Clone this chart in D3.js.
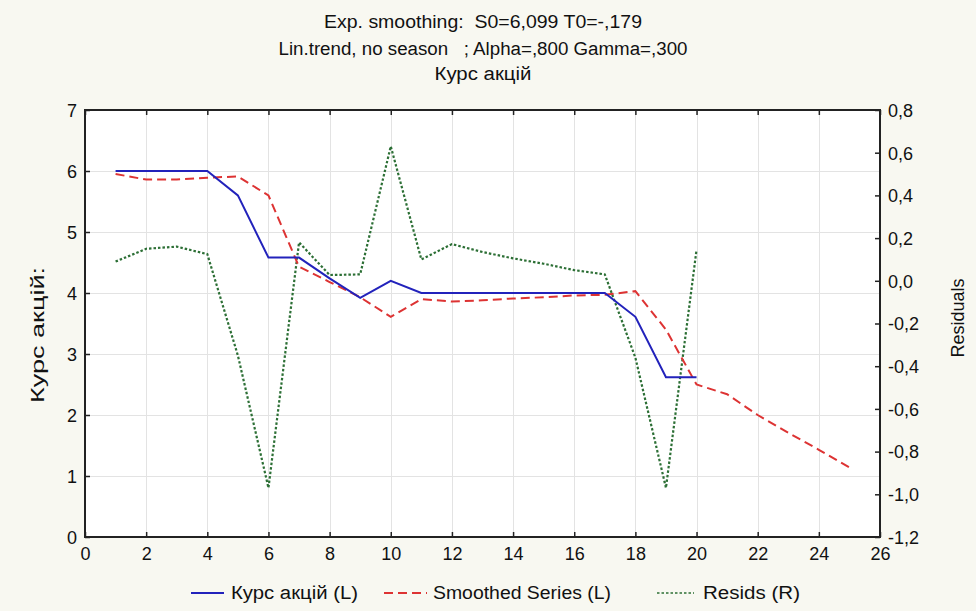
<!DOCTYPE html>
<html>
<head>
<meta charset="utf-8">
<script src="https://cdn.jsdelivr.net/npm/d3@7"></script>
<style>
  html, body { margin: 0; padding: 0; background: #f8f8f1; }
  svg { display: block; }
  text { font-family: "Liberation Sans", Arial, sans-serif; fill: #111; white-space: pre; }
</style>
</head>
<body>
<svg id="chart" width="976" height="611"></svg>
<script>
// ---- data ----
const titleLines = ["Exp. smoothing:  S0=6,099 T0=-,179",
                    "Lin.trend, no season   ; Alpha=,800 Gamma=,300",
                    "Курс акцій"];
const priceX = [1,2,3,4,5,6,7,8,9,10,11,12,13,14,15,16,17,18,19,20];
const price  = [6.0,6.0,6.0,6.0,5.6,4.58,4.58,4.24,3.92,4.2,4.0,4.0,4.0,4.0,4.0,4.0,4.0,3.61,2.62,2.62];
const smoothX = [1,2,3,4,5,6,7,8,9,10,11,12,13,14,15,16,17,18,19,20,21,22,23,24,25];
const smoothed = [5.95,5.86,5.86,5.89,5.91,5.6,4.43,4.18,3.93,3.61,3.9,3.86,3.88,3.91,3.93,3.96,3.97,4.03,3.4,2.5,2.34,2.0,1.71,1.43,1.14];
const residX = [1,2,3,4,5,6,7,8,9,10,11,12,13,14,15,16,17,18,19,20];
const resids = [0.09,0.15,0.16,0.125,-0.35,-0.97,0.18,0.027,0.03,0.63,0.1,0.172,0.135,0.105,0.08,0.05,0.03,-0.36,-0.97,0.145];
const xTicks = [0,2,4,6,8,10,12,14,16,18,20,22,24,26];
const yLeftTicks = [0,1,2,3,4,5,6,7];
const yRightTicks = [-1.2,-1.0,-0.8,-0.6,-0.4,-0.2,0.0,0.2,0.4,0.6,0.8];
const legendItems = ["Курс акцій (L)", "Smoothed Series (L)", "Resids (R)"];

// ---- layout ----
const L = 85, R = 880, T = 110, B = 537;
const svg = d3.select("#chart");
const x = d3.scaleLinear().domain([0,26]).range([L,R]);
const yL = d3.scaleLinear().domain([0,7]).range([B,T]);
const yR = d3.scaleLinear().domain([-1.2,0.8]).range([B,T]);
const fmt = v => d3.format(".1f")(v).replace("−","-").replace(".",",");
const fitW = (sel, w) => sel.attr("textLength", w).attr("lengthAdjust","spacingAndGlyphs");

svg.append("rect").attr("x",L).attr("y",T).attr("width",R-L).attr("height",B-T).attr("fill","#ffffff");

// grid
const grid = svg.append("g").attr("stroke","#e3e3e3").attr("stroke-width",1);
xTicks.filter(d=>d>0&&d<26).forEach(d=>{
  grid.append("line").attr("x1",Math.round(x(d))+0.5).attr("x2",Math.round(x(d))+0.5).attr("y1",T).attr("y2",B);
});
yLeftTicks.filter(d=>d>0&&d<7).forEach(d=>{
  grid.append("line").attr("y1",Math.round(yL(d))+0.5).attr("y2",Math.round(yL(d))+0.5).attr("x1",L).attr("x2",R);
});

// axes (ticks inward)
const fs = 18;
const axB = svg.append("g").attr("transform",`translate(0,${B})`)
  .call(d3.axisTop(x).tickValues(xTicks).tickSize(5).tickFormat(""));
axB.selectAll(".tick").append("text").attr("y",23).attr("text-anchor","middle").attr("font-size",fs).text(d=>d);
const axT = svg.append("g").attr("transform",`translate(0,${T})`)
  .call(d3.axisBottom(x).tickValues(xTicks).tickSize(5).tickFormat(""));
const axL = svg.append("g").attr("transform",`translate(${L},0)`)
  .call(d3.axisRight(yL).tickValues(yLeftTicks).tickSize(5).tickFormat(""));
axL.selectAll(".tick").append("text").attr("x",-8).attr("dy","0.35em").attr("text-anchor","end").attr("font-size",fs).text(d=>d);
const axR = svg.append("g").attr("transform",`translate(${R},0)`)
  .call(d3.axisLeft(yR).tickValues(yRightTicks).tickSize(5).tickFormat(""));
axR.selectAll(".tick").append("text").attr("x",8).attr("dy","0.35em").attr("text-anchor","start").attr("font-size",fs).text(d=>fmt(d));
[axB,axT,axL,axR].forEach(a=>{
  a.select(".domain").remove();
  a.selectAll(".tick line").attr("stroke","#222").attr("stroke-width",1.5);
});
svg.append("rect").attr("x",L).attr("y",T).attr("width",R-L).attr("height",B-T)
  .attr("fill","none").attr("stroke","#222").attr("stroke-width",2);

// series
svg.append("clipPath").attr("id","clp").append("rect").attr("x",L).attr("y",T).attr("width",R-L).attr("height",B-T);
const g = svg.append("g").attr("clip-path","url(#clp)");
const lineL = d3.line().x(d=>x(d[0])).y(d=>yL(d[1]));
const lineR = d3.line().x(d=>x(d[0])).y(d=>yR(d[1]));
g.append("path").datum(residX.map((v,i)=>[v,resids[i]])).attr("d",lineR)
  .attr("fill","none").attr("stroke","#2c6f35").attr("stroke-width",2.2).attr("stroke-dasharray","2.5,2");
g.append("path").datum(smoothX.map((v,i)=>[v,smoothed[i]])).attr("d",lineL)
  .attr("fill","none").attr("stroke","#dd3333").attr("stroke-width",2).attr("stroke-dasharray","9,5");
g.append("path").datum(priceX.map((v,i)=>[v,price[i]])).attr("d",lineL)
  .attr("fill","none").attr("stroke","#2222bb").attr("stroke-width",2);

// titles
const titleY = [28, 55, 80], titleW = [318, 409, 97];
titleLines.forEach((t,i)=>{
  fitW(svg.append("text").attr("x",483).attr("y",titleY[i]).attr("text-anchor","middle")
    .attr("font-size",18).text(t), titleW[i]);
});
fitW(svg.append("text").attr("transform","translate(44,335) rotate(-90)").attr("text-anchor","middle")
  .attr("font-size",18).text("Курс акцій:"), 136);
svg.append("text").attr("transform","translate(964,318) rotate(-90)").attr("text-anchor","middle")
  .attr("font-size",18).text("Residuals");

// legend
const leg = svg.append("g");
const legY = 593;
const legStyles = [
  {x1:191,x2:224,tx:231,w:127,stroke:"#2222bb",dash:null,sw:2},
  {x1:384,x2:427,tx:433,w:178,stroke:"#dd3333",dash:"9,5",sw:2},
  {x1:657,x2:694,tx:703,w:97,stroke:"#2c6f35",dash:"2.5,2",sw:1.5}
];
legendItems.forEach((name,i)=>{
  const s = legStyles[i];
  leg.append("line").attr("x1",s.x1).attr("x2",s.x2).attr("y1",legY).attr("y2",legY)
    .attr("stroke",s.stroke).attr("stroke-width",s.sw).attr("stroke-dasharray",s.dash);
  fitW(leg.append("text").attr("x",s.tx).attr("y",legY).attr("dy","0.35em").attr("font-size",18).text(name), s.w);
});
</script>
</body>
</html>
